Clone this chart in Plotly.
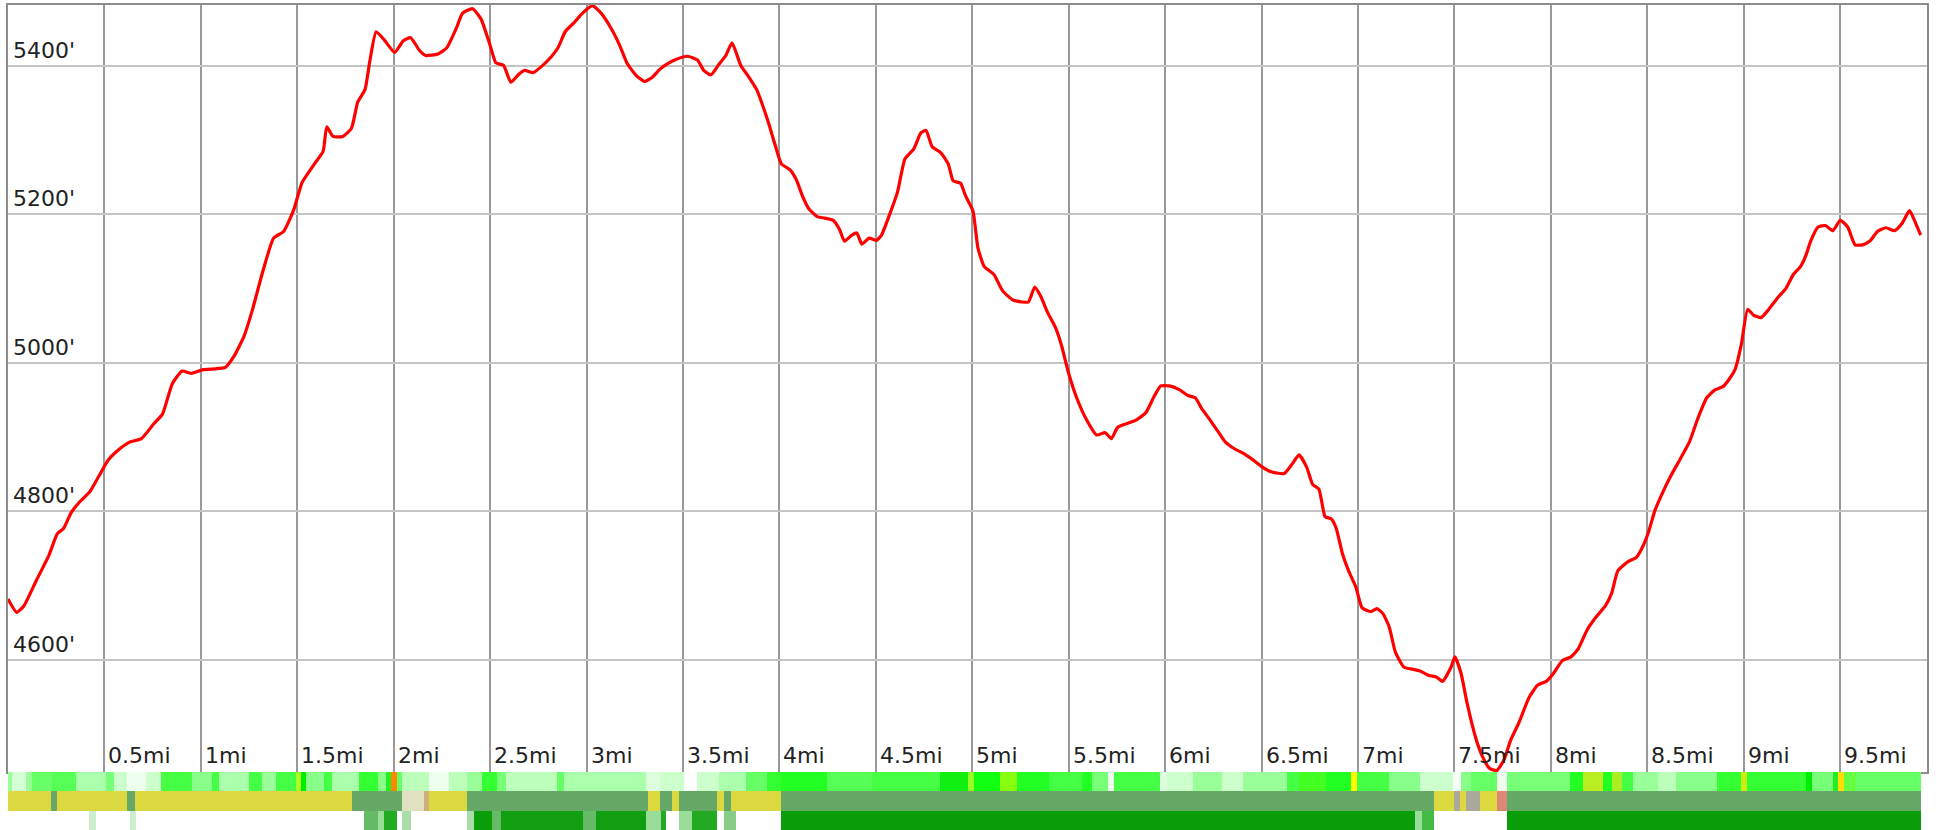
import plotly.graph_objects as go

# ---------------- elevation profile ----------------
distance_mi = [0.000,0.045,0.083,0.147,0.211,0.256,0.288,0.327,0.372,0.423,0.468,0.519,0.564,0.628,0.692,0.756,0.801,0.852,0.903,0.948,
1.012,1.076,1.127,1.172,1.224,1.268,1.320,1.377,1.429,1.480,1.525,1.589,1.634,1.653,1.685,1.736,1.781,1.813,1.851,1.877,1.909,1.954,
2.005,2.050,2.088,2.133,2.165,2.229,2.274,2.325,2.357,2.409,2.453,2.498,2.530,2.569,2.607,2.646,2.678,2.723,2.774,2.819,2.851,2.889,2.934,2.979,
3.030,3.075,3.126,3.171,3.209,3.254,3.299,3.338,3.382,3.427,3.466,3.523,3.575,3.607,3.645,3.683,3.722,3.754,3.799,3.844,3.882,3.914,3.946,3.978,
4.010,4.055,4.087,4.119,4.151,4.196,4.234,4.279,4.311,4.337,4.375,4.401,4.427,4.465,4.503,4.529,4.567,4.612,4.651,4.696,4.734,4.760,4.792,4.837,4.875,4.901,4.939,4.965,
5.003,5.029,5.061,5.112,5.157,5.208,5.259,5.291,5.324,5.356,5.388,5.432,5.464,5.496,5.541,5.593,5.644,5.689,5.721,5.753,5.798,5.849,5.900,5.945,5.977,
6.022,6.073,6.118,6.156,6.188,6.233,6.278,6.310,6.361,6.406,6.457,6.502,6.553,6.617,6.662,6.694,6.733,6.765,6.797,6.829,6.861,6.887,6.919,6.951,6.989,
7.021,7.066,7.098,7.130,7.162,7.194,7.239,7.290,7.322,7.367,7.406,7.438,7.482,7.502,7.534,7.566,7.611,7.643,7.681,7.719,7.758,7.790,7.835,7.886,7.931,7.976,
8.014,8.059,8.104,8.142,8.187,8.232,8.283,8.315,8.347,8.398,8.443,8.475,8.507,8.539,8.584,8.622,8.667,8.719,8.763,8.808,8.847,8.892,8.924,8.956,8.988,
9.020,9.052,9.090,9.129,9.180,9.218,9.257,9.295,9.321,9.347,9.385,9.423,9.462,9.500,9.539,9.577,9.616,9.654,9.693,9.737,9.782,9.821,9.859,9.885,9.917]

elevation_ft = [4682,4664,4673,4707,4740,4770,4777,4798,4813,4826,4846,4869,4881,4893,4898,4918,4931,4972,4989,4986,
4991,4992,4994,5009,5036,5072,5122,5168,5177,5205,5243,5268,5285,5318,5305,5305,5316,5351,5368,5408,5446,5434,
5418,5434,5438,5421,5414,5416,5424,5451,5471,5477,5463,5429,5404,5401,5378,5388,5394,5391,5401,5413,5424,5446,5458,5471,
5481,5471,5451,5428,5404,5388,5379,5384,5396,5404,5409,5413,5408,5394,5388,5401,5414,5431,5401,5384,5368,5346,5321,5293,
5268,5260,5247,5225,5208,5197,5195,5192,5180,5164,5172,5175,5160,5168,5165,5172,5197,5230,5275,5288,5310,5313,5291,5283,5268,5245,5242,5225,
5205,5155,5130,5119,5097,5085,5082,5082,5102,5089,5069,5047,5022,4989,4953,4923,4903,4906,4898,4913,4918,4923,4933,4956,4969,
4969,4964,4956,4953,4939,4923,4906,4894,4884,4878,4869,4860,4853,4851,4865,4876,4860,4836,4830,4793,4790,4777,4743,4720,4698,
4670,4665,4669,4662,4644,4610,4590,4587,4585,4579,4577,4571,4590,4604,4582,4541,4494,4471,4454,4451,4466,4491,4516,4549,4566,4571,
4582,4599,4604,4615,4640,4657,4673,4690,4720,4732,4738,4752,4773,4801,4828,4848,4869,4894,4926,4953,4963,4968,4978,4992,5026,
5072,5064,5061,5072,5089,5100,5119,5130,5144,5164,5183,5185,5178,5192,5183,5159,5159,5164,5177,5182,5178,5188,5205,5192,5172]

x_tick_vals = [0.5,1,1.5,2,2.5,3,3.5,4,4.5,5,5.5,6,6.5,7,7.5,8,8.5,9,9.5]
x_tick_text = ["0.5mi","1mi","1.5mi","2mi","2.5mi","3mi","3.5mi","4mi","4.5mi","5mi",
               "5.5mi","6mi","6.5mi","7mi","7.5mi","8mi","8.5mi","9mi","9.5mi"]
y_tick_vals = [4600,4800,5000,5200,5400]
y_tick_text = ["4600'","4800'","5000'","5200'","5400'"]

# ---------------- coloured strips (segment edges in miles) ----------------
strip1_edges = [0.000,0.023,0.095,0.127,0.230,0.355,0.510,0.552,0.619,0.718,0.795,0.956,1.060,1.096,1.252,1.319,1.392,1.495,1.521,1.547,
1.641,1.682,1.822,1.916,1.962,1.988,2.019,2.045,2.185,2.289,2.382,2.460,2.538,2.584,2.844,2.885,3.310,3.378,3.507,3.575,
3.689,3.829,3.933,4.010,4.244,4.482,4.830,4.975,5.011,5.141,5.234,5.400,5.571,5.623,5.701,5.737,5.971,6.007,6.142,6.297,
6.401,6.629,6.696,6.836,6.966,6.997,7.163,7.319,7.490,7.536,7.588,7.718,7.770,8.097,8.164,8.268,8.319,8.366,8.423,8.553,
8.651,8.859,8.988,9.019,9.325,9.356,9.460,9.486,9.522,9.584,9.921]
strip1_colors = ["#99ff99","#d5ffd5","#99ff99","#66ff66","#55ff55","#aaffaa","#77ff77","#ccffcc","#eeffee","#ccffcc",
"#44ff44","#88ff88","#44ff44","#aaffaa","#44ff44","#99ff99","#44ff44","#aaff22","#00ee00","#88ff88",
"#44ff44","#aaffaa","#33ff33","#88ff88","#22ee22","#ff8800","#66ff66","#bbffbb","#eeffee","#bbffbb",
"#99ff99","#33ff33","#77ff77","#bbffbb","#66ff66","#aaffaa","#ddffdd","#ccffcc","#ffffff","#ccffcc",
"#aaffaa","#66ff66","#33ff33","#22ff22","#55ff55","#44ff44","#11ee11","#99ff22","#11ff11","#88ff11",
"#22ff22","#44ff44","#22ff22","#77ff77","#eeffee","#44ff44","#ddffdd","#ccffcc","#99ff99","#ccffcc",
"#99ff99","#44ff44","#44ff22","#22ff22","#ffff00","#44ff44","#88ff88","#ccffcc","#f5fff5","#88ff88",
"#66ff66","#eeffee","#77ff77","#22ff22","#bbee22","#22ff22","#aaee22","#44ff44","#99ff99","#bbffbb",
"#88ff88","#33ff33","#ccee11","#33ff33","#00ee00","#77ff77","#22ee22","#ffdd00","#66ff44","#66ff66"]

Y, G = "#dcd840", "#66a866"
strip2_edges = [0.000,0.225,0.256,0.619,0.656,1.786,2.045,2.159,2.185,2.382,3.316,3.378,3.445,3.481,3.678,3.715,3.751,4.010,
7.396,7.500,7.526,7.562,7.630,7.723,7.770,9.921]
strip2_colors = [Y,G,Y,G,Y,G,"#e0dfc0","#ccb077",Y,G,Y,G,Y,G,Y,G,Y,G,Y,"#aaa89a",Y,"#aaa89a",Y,"#dd8877",G]

W, L1 = "#ffffff", "#cceecc"
strip3_edges = [0.000,0.422,0.458,0.630,0.666,1.848,1.916,1.952,2.019,2.045,2.092,2.382,2.418,2.512,2.558,2.979,3.051,3.310,
3.388,3.414,3.481,3.549,3.678,3.715,3.777,4.010,7.293,7.334,7.396,7.770,9.921]
strip3_colors = [W,L1,W,L1,W,"#66bb66","#99dd99","#22aa22",W,"#aaddaa",W,"#aaddaa","#0a9e0a","#66bb66","#119f11",
"#66bb66","#119f11","#99dd99","#22aa22",W,"#99dd99","#22aa22",W,"#88cc88",W,"#0a9e0a","#99dd99","#44bb44",W,"#0a9e0a"]

X_RANGE = [0, 9.95]
Y_RANGE = [4449, 5482]
FONT = "DejaVu Sans"

fig = go.Figure()

fig.add_trace(go.Scatter(x=distance_mi, y=elevation_ft, mode="lines",
                         line=dict(color="#ff0000", width=3.2, shape="spline", smoothing=0.5),
                         hoverinfo="skip", xaxis="x", yaxis="y", showlegend=False))

for row, (edges, colors) in enumerate([(strip1_edges, strip1_colors),
                                       (strip2_edges, strip2_colors),
                                       (strip3_edges, strip3_colors)]):
    starts = edges[:-1]
    lengths = [e - s for s, e in zip(edges[:-1], edges[1:])]
    fig.add_trace(go.Bar(orientation="h", y=[row] * len(starts), x=lengths, base=starts,
                         width=1, marker=dict(color=colors, line=dict(width=0)),
                         xaxis="x2", yaxis="y2", showlegend=False, hoverinfo="skip"))

strip_h = 58 / 825
annotations = []
for v, t in zip(x_tick_vals, x_tick_text):
    annotations.append(dict(x=v, xref="x", y=0, yref="y domain", text=t, showarrow=False,
                            xanchor="left", yanchor="bottom", xshift=2, yshift=2,
                            font=dict(family=FONT, size=22, color="#222222")))
for v, t in zip(y_tick_vals, y_tick_text):
    annotations.append(dict(x=0, xref="x domain", y=v, yref="y", text=t, showarrow=False,
                            xanchor="left", yanchor="bottom", xshift=3, yshift=1,
                            font=dict(family=FONT, size=22, color="#222222")))

fig.update_layout(
    width=1937, height=830,
    margin=dict(l=8, r=10, t=5, b=0),
    paper_bgcolor="white", plot_bgcolor="white",
    bargap=0, barmode="overlay",
    xaxis=dict(range=X_RANGE, domain=[0, 1], anchor="y", tickvals=x_tick_vals,
               showticklabels=False, ticks="", showgrid=True, gridcolor="#999999", gridwidth=2,
               zeroline=False, showline=True, linecolor="#8c8c8c", linewidth=2, mirror=True),
    yaxis=dict(range=Y_RANGE, domain=[strip_h, 1], anchor="x", tickvals=y_tick_vals,
               showticklabels=False, ticks="", showgrid=True, gridcolor="#c4c4c4", gridwidth=1.5,
               zeroline=False, showline=True, linecolor="#8c8c8c", linewidth=2, mirror=True),
    xaxis2=dict(range=X_RANGE, domain=[0, 1], anchor="y2", showticklabels=False, ticks="",
                showgrid=False, zeroline=False, showline=False),
    yaxis2=dict(range=[2.5, -0.5], domain=[0, strip_h], anchor="x2", showticklabels=False,
                ticks="", showgrid=False, zeroline=False, showline=False),
    annotations=annotations,
    font=dict(family=FONT),
)

fig.write_html("out.html", config={"displayModeBar": False},
               post_script="document.body.style.margin='0';document.body.style.overflow='hidden';")
